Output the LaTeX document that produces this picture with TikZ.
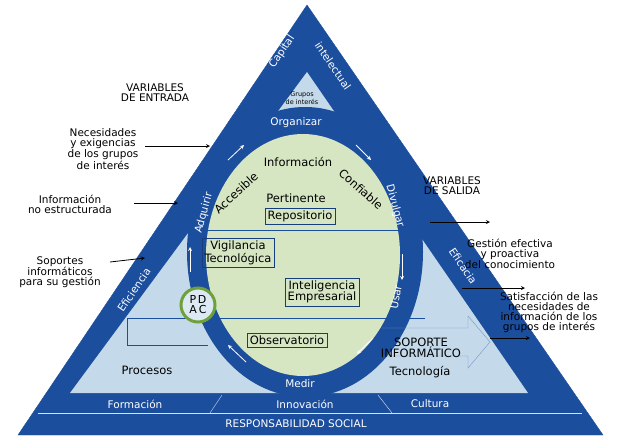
\documentclass[tikz,border=0pt]{standalone}
\usepackage{fontspec}
\setmainfont{DejaVu Sans}
\usetikzlibrary{positioning,shapes,arrows,calc}
\definecolor{darkblue}{RGB}{28,78,158}
\definecolor{lightblue}{RGB}{196,218,234}
\definecolor{palegreen}{RGB}{214,230,194}
\definecolor{pdcagreen}{RGB}{110,160,60}

\tikzset{
  outtext/.style={align=center, font=\fontsize{10.5}{10}\selectfont, inner sep=0pt},
  bandtext/.style={text=white, font=\fontsize{10.5}{11}\selectfont, inner sep=0pt},
  intext/.style={font=\fontsize{11.5}{11.5}\selectfont, align=center, inner sep=0pt},
  boxed/.style={draw=darkblue!80!black, intext, inner sep=2.5pt},
  inarrow/.style={->, >=stealth, thick},
  ringarrow/.style={->, >=stealth, white, thick}
}

\begin{document}
\begin{tikzpicture}[x=1pt, y=-1pt]
\useasboundingbox (0,0) rectangle (618,442);

% Triangles
\draw[fill=darkblue, draw=darkblue] (307,5) -- (603,435) -- (18,435) -- cycle;
\fill[lightblue] (307,72) -- (528,393) -- (70,393) -- cycle;
\draw[lightblue!70, thin] (38,413) -- (582,413);
\draw[lightblue!70, thin] (222,395) -- (210,413);
\draw[lightblue!70, thin] (378,395) -- (392,413);

% Ring and core
\fill[darkblue] (305,252) ellipse [x radius=118, y radius=145];
\fill[palegreen] (303,255) ellipse [x radius=97, y radius=121];

% Lines across
\draw[darkblue, thin] (196,230) -- (412,230);
\draw[darkblue, thin] (127,318) -- (425,318);
\draw[darkblue, thin] (127,318) -- (127,345) -- (208,345);

% PDCA
\node[circle, draw=pdcagreen, line width=3pt, fill=lightblue!60, minimum size=34pt, inner sep=0pt] (pdca) at (198,305) {};
\node[intext, font=\fontsize{11}{10}\selectfont] (pdcatext) at (pdca) {P\,D\\A\,C};

% Soporte arrow
\draw[darkblue!60, thin] (382,328) -- (468,328) -- (468,316) -- (490,342) -- (468,368) -- (468,356) -- (382,356);

% Ring labels
\node[bandtext] (organizar) at (296,123) {Organizar};
\node[bandtext, rotate=75] (adquirir) at (204,213) {Adquirir};
\node[bandtext, rotate=-75] (divulgar) at (395,206) {Divulgar};
\node[bandtext, rotate=80] (usar) at (396,297) {Usar};
\node[bandtext] (medir) at (300,384) {Medir};
\node[bandtext, rotate=56] (capital) at (282,52) {Capital};
\node[bandtext, rotate=-56] (intelectual) at (333,66) {intelectual};
\node[bandtext, rotate=56] (eficiencia) at (134,290) {Eficiencia};
\node[bandtext, rotate=-56] (eficacia) at (463,266) {Eficacia};
\node[bandtext] (formacion) at (135,404) {Formación};
\node[bandtext] (innovacion) at (305,404) {Innovación};
\node[bandtext] (cultura) at (430,404) {Cultura};
\node[bandtext] (resp) at (296,424) {RESPONSABILIDAD SOCIAL};

% Ring arrows
\coordinate (a1) at (228,160); \coordinate (a2) at (244,145);
\coordinate (b1) at (356,145); \coordinate (b2) at (371,160);
\coordinate (c1) at (190,272); \coordinate (c2) at (190,247);
\coordinate (d1) at (402,254); \coordinate (d2) at (402,280);
\coordinate (e1) at (246,362); \coordinate (e2) at (228,345);
\coordinate (f1) at (373,338); \coordinate (f2) at (357,354);
\foreach \s/\t in {a1/a2, b1/b2, c1/c2, d1/d2, e1/e2, f1/f2}
  \draw[ringarrow] (\s) -- (\t);

% Core texts
\node[intext, font=\fontsize{6.5}{7.5}\selectfont] (grupos) at (302,98) {Grupos\\de interés};
\node[intext] (informacion) at (298,162) {Información};
\node[intext, rotate=42] (accesible) at (236,193) {Accesible};
\node[intext, rotate=-42] (confiable) at (361,189) {Confiable};
\node[intext] (pertinente) at (296,198) {Pertinente};
\node[boxed] (repositorio) at (300,216) {Repositorio};
\node[boxed] (vigilancia) at (238,253) {Vigilancia\\Tecnológica};
\node[boxed] (inteligencia) at (322,292) {Inteligencia\\Empresarial};
\node[boxed] (observatorio) at (287,340) {Observatorio};
\node[intext] (procesos) at (147,370) {Procesos};
\node[intext] (soporte) at (421,348) {SOPORTE\\INFORMÁTICO};
\node[intext] (tecnologia) at (420,372) {Tecnología};

% Outside texts
\node[outtext] (entrada) at (155,93) {VARIABLES\\DE ENTRADA};
\node[outtext] (necesidades) at (103,149) {Necesidades\\y exigencias\\de los grupos\\de interés};
\node[outtext] (noestruct) at (70,204) {Información\\no estructurada};
\node[outtext] (soportes) at (60,272) {Soportes\\informáticos\\para su gestión};
\node[outtext] (salida) at (452,186) {VARIABLES\\DE SALIDA};
\node[outtext] (gestion) at (510,254) {Gestión efectiva\\y proactiva\\del conocimiento};
\node[outtext] (satisf) at (549,312) {Satisfacción de las\\necesidades de\\información de los\\grupos de interés};

% Outside arrows
\coordinate (n1) at (145,146); \coordinate (n2) at (210,146);
\coordinate (i1) at (134,203); \coordinate (i2) at (178,203);
\coordinate (s1) at (110,262); \coordinate (s2) at (145,258);
\coordinate (g1) at (430,222); \coordinate (g2) at (490,222);
\coordinate (h1) at (462,288); \coordinate (h2) at (525,288);
\coordinate (k1) at (490,338); \coordinate (k2) at (530,338);
\foreach \s/\t in {n1/n2, i1/i2, s1/s2, g1/g2, h1/h2, k1/k2}
  \draw[inarrow] (\s) -- (\t);

\end{tikzpicture}
\end{document}
